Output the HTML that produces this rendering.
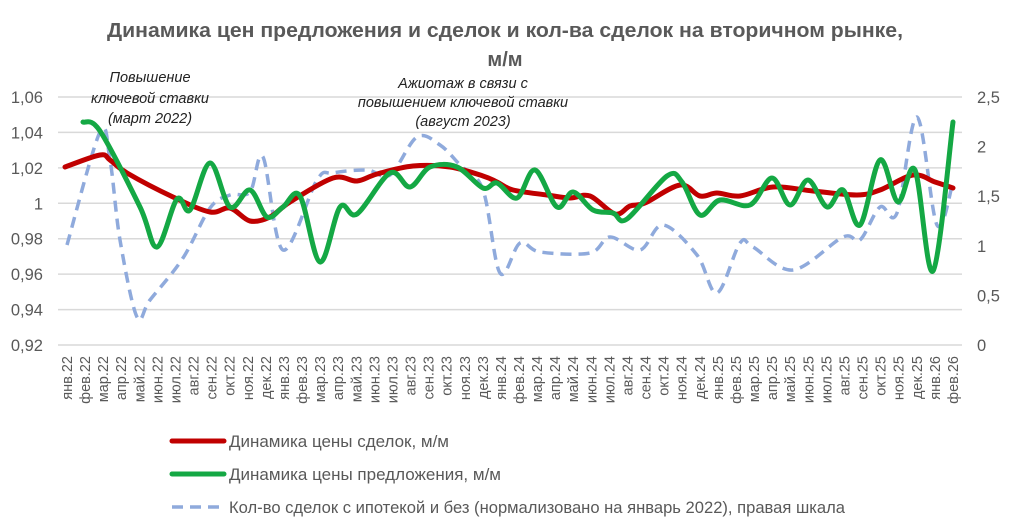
<!DOCTYPE html>
<html><head><meta charset="utf-8">
<style>
html,body{margin:0;padding:0;background:#fff;}
svg{display:block;font-family:"Liberation Sans","DejaVu Sans",sans-serif;}
</style></head>
<body>
<svg id="s" width="1009" height="528" viewBox="0 0 1009 528" xmlns="http://www.w3.org/2000/svg">
<rect width="1009" height="528" fill="#fff"/>
<g fill="#595959" font-weight="bold" font-size="20" text-anchor="middle">
<text x="505" y="37" textLength="796" lengthAdjust="spacingAndGlyphs">Динамика цен предложения и сделок и кол-ва сделок на вторичном рынке,</text>
<text x="505" y="66">м/м</text>
</g>
<g id="grid" stroke="#d9d9d9" stroke-width="1.5"></g>
<g id="yl" fill="#595959" font-size="16.5"></g>
<g id="xl" fill="#595959" font-size="14.5"></g>
<g font-style="italic" font-size="14.5" fill="#222" text-anchor="middle">
<text x="150" y="82">Повышение</text>
<text x="150" y="103">ключевой ставки</text>
<text x="150" y="123">(март 2022)</text>
<text x="463" y="88">Ажиотаж в связи с</text>
<text x="463" y="107">повышением ключевой ставки</text>
<text x="463" y="126">(август 2023)</text>
</g>
<path id="blue" fill="none" stroke="#8faadc" stroke-width="3.5" stroke-dasharray="11,7"/>
<path id="red" fill="none" stroke="#c00000" stroke-width="5" stroke-linecap="round"/>
<path id="green" fill="none" stroke="#14a844" stroke-width="5" stroke-linecap="round"/>
<line x1="172" y1="441" x2="224" y2="441" stroke="#c00000" stroke-width="5" stroke-linecap="round"/>
<line x1="172" y1="474" x2="224" y2="474" stroke="#14a844" stroke-width="5" stroke-linecap="round"/>
<line x1="172" y1="507" x2="224" y2="507" stroke="#8faadc" stroke-width="3.5" stroke-dasharray="11,7"/>
<g fill="#595959" font-size="16.5">
<text x="229" y="447" textLength="220" lengthAdjust="spacingAndGlyphs">Динамика цены сделок, м/м</text>
<text x="229" y="480" textLength="272" lengthAdjust="spacingAndGlyphs">Динамика цены предложения, м/м</text>
<text x="229" y="513" textLength="616" lengthAdjust="spacingAndGlyphs">Кол-во сделок с ипотекой и без (нормализовано на январь 2022),  правая шкала</text>
</g>
</svg>
<script>
var NS="http://www.w3.org/2000/svg";
function el(t,a,p,txt){var e=document.createElementNS(NS,t);for(var k in a)e.setAttribute(k,a[k]);if(txt!==undefined)e.textContent=txt;p.appendChild(e);return e;}
var g=document.getElementById('grid'),yl=document.getElementById('yl'),xl=document.getElementById('xl');
var L=["1,06","1,04","1,02","1","0,98","0,96","0,94","0,92"],R=["2,5","2","1,5","1","0,5","0"];
for(var i=0;i<8;i++){var y=97+i*35.43;el('line',{x1:58,x2:962,y1:y,y2:y},g);el('text',{x:43,y:y+6,'text-anchor':'end'},yl,L[i]);}
for(var i=0;i<6;i++){var y=97+i*49.6;el('text',{x:977,y:y+6},yl,R[i]);}
var m=["янв","фев","мар","апр","май","июн","июл","авг","сен","окт","ноя","дек"];
for(var i=0;i<50;i++){var x=67+i*18.08,mo=i%12,yr=22+Math.floor(i/12);
el('text',{x:0,y:0,'text-anchor':'end',transform:'translate('+(x+5)+',356) rotate(-90)'},xl,m[mo]+"."+yr);}
function path(p){var d="M"+p[0][0]+","+p[0][1];for(var i=0;i<p.length-1;i++){var p0=p[Math.max(0,i-1)],p1=p[i],p2=p[i+1],p3=p[Math.min(p.length-1,i+2)];
d+=" C"+(p1[0]+(p2[0]-p0[0])/6)+","+(p1[1]+(p2[1]-p0[1])/6)+" "+(p2[0]-(p3[0]-p1[0])/6)+","+(p2[1]-(p3[1]-p1[1])/6)+" "+p2[0]+","+p2[1];}return d;}
var red=[[65,167],[100,155],[110,160],[127,173],[173,197],[210,212],[230,208],[250,221],[270,217],[290,202],[333,178],[357,181],[377,174],[413,166],[450,167],[483,176],[497,182],[513,190],[547,195],[570,198],[590,196],[615,214],[630,206],[645,203],[680,185],[700,196],[717,193],[740,196],[773,187],[813,191],[857,195],[880,190],[913,175],[935,182],[953,188]];
var green=[[83,122],[100,131],[140,207],[157,247],[177,199],[190,210],[210,163],[230,207],[250,190],[267,217],[283,207],[300,196],[320,262],[340,207],[357,214],[390,173],[410,187],[430,167],[457,167],[483,188],[497,183],[517,198],[535,170],[557,207],[573,192],[593,210],[613,213],[627,219],[667,176],[682,182],[700,215],[720,200],[750,205],[772,178],[790,205],[808,180],[827,207],[843,190],[860,225],[880,160],[898,202],[915,170],[933,271],[953,122]];
var blue=[[67,245],[100,132],[110,160],[120,240],[137,317],[150,300],[183,258],[210,208],[230,195],[250,192],[263,157],[283,250],[317,180],[333,173],[367,170],[390,175],[417,137],[440,145],[460,165],[483,190],[500,273],[520,243],[540,252],[590,253],[610,237],[640,250],[663,225],[697,255],[717,293],[740,243],[753,247],[793,270],[843,237],[860,240],[880,207],[897,213],[917,117],[937,225],[953,182]];
document.getElementById('red').setAttribute('d',path(red));
document.getElementById('green').setAttribute('d',path(green));
document.getElementById('blue').setAttribute('d',path(blue));
</script>
</body></html>
